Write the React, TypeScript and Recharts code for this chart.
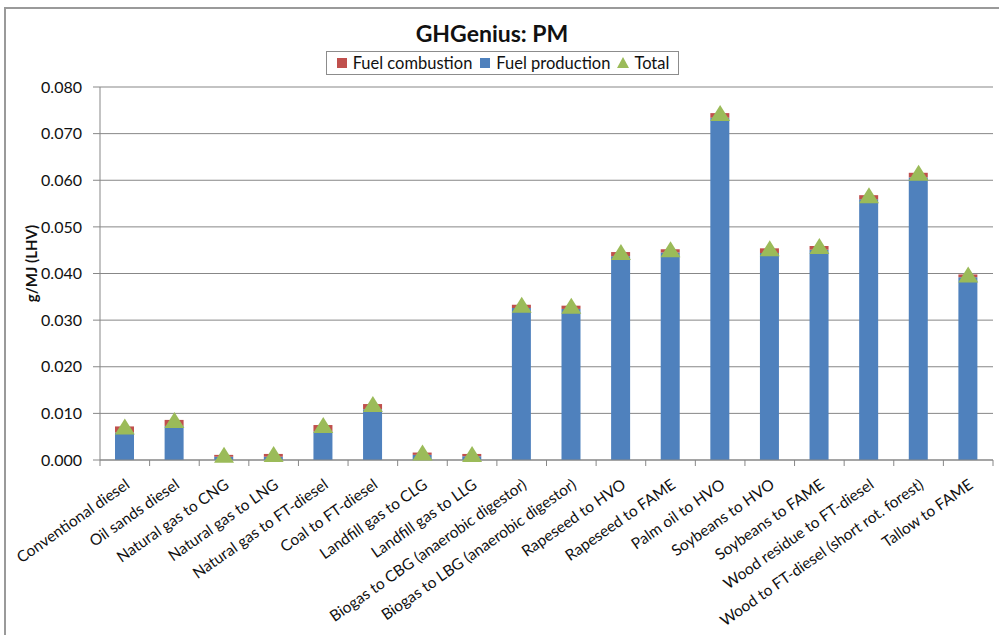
import React from "react";
import { ComposedChart, Bar, Line, XAxis, YAxis, CartesianGrid, Legend } from "recharts";

// fuel pathways, left to right
const categories = [
  "Conventional diesel",
  "Oil sands diesel",
  "Natural gas to CNG",
  "Natural gas to LNG",
  "Natural gas to FT-diesel",
  "Coal to FT-diesel",
  "Landfill gas to CLG",
  "Landfill gas to LLG",
  "Biogas to CBG (anaerobic digestor)",
  "Biogas to LBG (anaerobic digestor)",
  "Rapeseed to HVO",
  "Rapeseed to FAME",
  "Palm oil to HVO",
  "Soybeans to HVO",
  "Soybeans to FAME",
  "Wood residue to FT-diesel",
  "Wood to FT-diesel (short rot. forest)",
  "Tallow to FAME",
];

// g/MJ (LHV)
const fuelProduction = [
  0.0059, 0.0073, 0.0007, 0.0007, 0.0061, 0.0109, 0.0011, 0.0008, 0.0326,
  0.0324, 0.0437, 0.0445, 0.0734, 0.0444, 0.0451, 0.0559, 0.0606, 0.0392,
];
const fuelCombustion = [
  0.0013, 0.0013, 0.0004, 0.0006, 0.0014, 0.0011, 0.0005, 0.0005, 0.0007,
  0.0007, 0.0009, 0.0007, 0.001, 0.001, 0.0008, 0.0009, 0.001, 0.0006,
];
const totals = [
  0.0072, 0.0086, 0.0011, 0.0013, 0.0075, 0.012, 0.0016, 0.0013, 0.0333,
  0.0331, 0.0446, 0.0452, 0.0744, 0.0454, 0.0459, 0.0568, 0.0616, 0.0398,
];

const yTicks = [0, 0.01, 0.02, 0.03, 0.04, 0.05, 0.06, 0.07, 0.08];

const data = categories.map((name, i) => ({
  name,
  production: fuelProduction[i],
  combustion: fuelCombustion[i],
  total: totals[i],
}));

const FONT = "Lato, 'Open Sans', sans-serif";
const GRID = "#878787";
const BLUE = "#4F81BD";
const RED = "#C0504D";
const GREEN = "#9BBB59";

const legendOrder = ["Fuel combustion", "Fuel production", "Total"];

const CategoryTick = (props: any) => {
  const { x, y, payload, index } = props;
  const half = payload?.offset || 24.8;
  const tx = x + 6;
  const ty = y + 27;
  return (
    <g>
      <line x1={x - half} x2={x - half} y1={y} y2={y + 6} stroke={GRID} />
      {index === categories.length - 1 && (
        <line x1={x + half} x2={x + half} y1={y} y2={y + 6} stroke={GRID} />
      )}
      <text
        x={tx}
        y={ty}
        transform={`rotate(-35, ${tx}, ${ty})`}
        textAnchor="end"
        fontSize={15.5}
        fontFamily={FONT}
        fill="#111"
      >
        {payload.value}
      </text>
    </g>
  );
};

const TriangleDot = (props: any) => {
  const { cx, cy, index } = props;
  if (cx == null || cy == null) return <g key={`t-${index}`} />;
  return (
    <path
      key={`t-${index}`}
      d={`M${cx},${cy - 8}L${cx + 10},${cy + 8}L${cx - 10},${cy + 8}Z`}
      fill={GREEN}
    />
  );
};

const LegendBox = (props: any) => {
  const items = [...(props.payload || [])].sort(
    (a: any, b: any) => legendOrder.indexOf(a.value) - legendOrder.indexOf(b.value)
  );
  return (
    <div
      style={{
        border: "1px solid #8c8c8c",
        height: 24,
        display: "flex",
        alignItems: "center",
        justifyContent: "center",
        fontFamily: FONT,
        fontSize: 16.5,
        color: "#111",
        background: "#fff",
        boxSizing: "border-box",
        whiteSpace: "nowrap",
      }}
    >
      {items.map((it: any, i: number) => (
        <span
          key={it.value}
          style={{ display: "flex", alignItems: "center", marginRight: i < items.length - 1 ? 7 : 0 }}
        >
          <svg width={12} height={12} style={{ marginRight: 5 }}>
            {it.type === "triangle" ? (
              <path d="M6,0L12,11L0,11Z" fill={GREEN} />
            ) : (
              <rect x={1} y={1} width={10} height={10} fill={it.color} />
            )}
          </svg>
          {it.value}
        </span>
      ))}
    </div>
  );
};

export default function App() {
  return (
    <div style={{ position: "absolute", left: 0, top: 0, width: 999, height: 635, background: "#fff", overflow: "hidden" }}>
      <div
        style={{
          position: "absolute",
          left: 4,
          top: 7,
          width: 1100,
          height: 800,
          borderLeft: "2px solid #9a9a9a",
          borderTop: "2px solid #9a9a9a",
        }}
      />
      <div
        style={{
          position: "absolute",
          left: 392,
          width: 200,
          top: 19,
          textAlign: "center",
          fontFamily: FONT,
          fontWeight: 700,
          fontSize: 23,
          color: "#111",
        }}
      >
        GHGenius: PM
      </div>
      <ComposedChart
        width={999}
        height={635}
        data={data}
        margin={{ top: 87, right: 6, left: 20, bottom: 25 }}
        barSize={19}
      >
        <CartesianGrid horizontal vertical={false} stroke={GRID} />
        <XAxis
          dataKey="name"
          interval={0}
          height={150}
          stroke={GRID}
          tickLine={false}
          tickSize={0}
          tickMargin={0}
          tick={<CategoryTick />}
        />
        <YAxis
          width={80}
          domain={[0, 0.08]}
          ticks={yTicks}
          stroke={GRID}
          tickSize={7}
          tickMargin={11}
          tick={{ fill: "#111", fontSize: 16, fontFamily: FONT }}
          tickFormatter={(v: number) => v.toFixed(3)}
          label={{
            content: (p: any) => {
              const vb = p.viewBox || { x: 20, y: 87, height: 373 };
              const cx = vb.x + 11;
              const cy = vb.y + vb.height / 2 - 10;
              return (
                <text
                  x={cx}
                  y={cy}
                  transform={`rotate(-90, ${cx}, ${cy})`}
                  textAnchor="middle"
                  dominantBaseline="central"
                  fontFamily={FONT}
                  fontWeight={700}
                  fontSize={15}
                  fill="#111"
                >
                  g/MJ (LHV)
                </text>
              );
            },
          }}
        />
        <Legend
          layout="horizontal"
          verticalAlign="middle"
          align="center"
          content={<LegendBox />}
          wrapperStyle={{ left: 326, top: 51, width: 353, height: 25 }}
        />
        <Bar dataKey="production" name="Fuel production" stackId="a" fill={BLUE} isAnimationActive={false} />
        <Bar dataKey="combustion" name="Fuel combustion" stackId="a" fill={RED} isAnimationActive={false} />
        <Line
          dataKey="total"
          name="Total"
          stroke="none"
          legendType="triangle"
          dot={TriangleDot}
          activeDot={false}
          isAnimationActive={false}
        />
      </ComposedChart>
    </div>
  );
}
